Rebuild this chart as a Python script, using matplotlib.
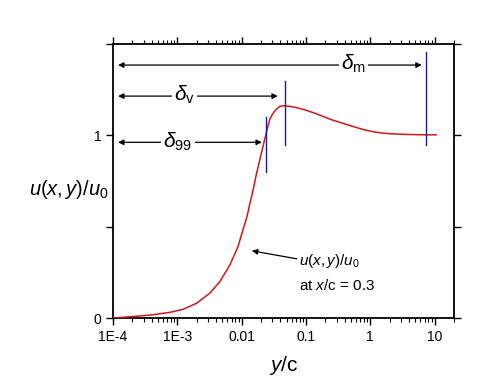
import matplotlib
matplotlib.use("Agg")
import matplotlib.pyplot as plt
from matplotlib.ticker import FixedLocator, LogLocator, NullFormatter, FixedFormatter

plt.rcParams['font.family'] = ['Liberation Sans', 'DejaVu Sans']
plt.rcParams['mathtext.fontset'] = 'custom'
plt.rcParams['mathtext.rm'] = 'Liberation Sans'
plt.rcParams['mathtext.it'] = 'Liberation Sans:italic'
plt.rcParams['mathtext.sf'] = 'Liberation Sans'

# velocity profile u(x,y)/u0 vs y/c
y_c = [1e-4, 1.84e-4, 3.76e-4, 7.7e-4, 1.24e-3, 2.0e-3, 3.2e-3, 4.6e-3, 6.55e-3,
       8.8e-3, 0.0105, 0.0122, 0.0135, 0.0151, 0.017, 0.0192, 0.0215, 0.0238,
       0.0256, 0.0274, 0.030, 0.0328, 0.036, 0.039, 0.0425, 0.0467, 0.056, 0.071,
       0.095, 0.128, 0.175, 0.234, 0.335, 0.45, 0.61, 0.8, 1.1, 1.5, 2.0, 2.7,
       3.6, 5.0, 7.3, 10.6]
u_u0 = [0.0, 0.007, 0.016, 0.031, 0.048, 0.081, 0.136, 0.20, 0.29,
        0.392, 0.484, 0.56, 0.63, 0.703, 0.79, 0.868, 0.94, 1.005,
        1.05, 1.088, 1.115, 1.134, 1.148, 1.158, 1.161, 1.162, 1.159, 1.152,
        1.14, 1.125, 1.107, 1.089, 1.071, 1.057, 1.043, 1.031, 1.02, 1.013, 1.009, 1.007,
        1.005, 1.004, 1.003, 1.003]

# thickness markers: (x position, y bottom, y top)
marker_x = [0.024, 0.047, 7.3]
marker_ylo = [0.80, 0.945, 0.945]
marker_yhi = [1.10, 1.30, 1.456]

# thickness arrows
arrow_labels = [r'$\delta_{\mathrm{99}}$', r'$\delta_{\mathrm{v}}$', r'$\delta_{\mathrm{m}}$']
arrow_y = [0.962, 1.215, 1.385]
arrow_x0 = [1.2e-4, 1.2e-4, 1.2e-4]
arrow_x1 = [0.0206, 0.0365, 6.3]
label_x = [1.02e-3, 1.3e-3, 0.55]

xticks = [1e-4, 1e-3, 1e-2, 1e-1, 1, 10]
xticklabels = ['1E-4', '1E-3', '0.01', '0.1', '1', '10']
yticks = [0, 0.5, 1, 1.5]
yticklabels = ['0', '', '1', '']

fig = plt.figure(figsize=(5.0, 3.83), dpi=100)
ax = fig.add_axes([0.226, 0.1697, 0.682, 0.7153])

ax.plot(y_c, u_u0, color='#d01818', lw=1.1, zorder=3)
for x, lo, hi in zip(marker_x, marker_ylo, marker_yhi):
    ax.plot([x, x], [lo, hi], color='#1c1c8c', lw=1.0, zorder=4)

for lab, y, x0, x1, lx in zip(arrow_labels, arrow_y, arrow_x0, arrow_x1, label_x):
    ax.annotate('', xy=(x0, y), xytext=(x1, y),
                arrowprops=dict(arrowstyle='<|-|>', color='black', lw=0.9,
                                mutation_scale=8, shrinkA=0, shrinkB=0))
    ax.text(lx, y + 0.005, lab, fontsize=15, ha='center', va='center',
            bbox=dict(facecolor='white', edgecolor='none', pad=1.5), zorder=5)

ax.annotate('', xy=(0.0144, 0.368), xytext=(0.072, 0.324),
            arrowprops=dict(arrowstyle='-|>', color='black', lw=0.9,
                            mutation_scale=8, shrinkA=0, shrinkB=0))
ax.text(0.078, 0.31, r'$u(x,y)/u_{\mathrm{0}}$', fontsize=11, ha='left', va='center')
ax.text(0.078, 0.18, r'at $x$/c = 0.3', fontsize=11, ha='left', va='center')

ax.set_xscale('log')
ax.set_xlim(1e-4, 20)
ax.set_ylim(0, 1.5)
ax.xaxis.set_major_locator(FixedLocator(xticks))
ax.xaxis.set_major_formatter(FixedFormatter(xticklabels))
ax.xaxis.set_minor_locator(LogLocator(base=10, subs=range(2, 10)))
ax.xaxis.set_minor_formatter(NullFormatter())
ax.yaxis.set_major_locator(FixedLocator(yticks))
ax.yaxis.set_major_formatter(FixedFormatter(yticklabels))

ax.tick_params(which='both', direction='out', top=True, right=True,
               labeltop=False, labelright=False, width=1.0, labelsize=10)
ax.tick_params(which='major', length=5)
ax.tick_params(which='minor', length=3, width=0.8)
for s in ax.spines.values():
    s.set_linewidth(1.3)

ax.set_xlabel(r'$y$/c', fontsize=15, labelpad=7)
ax.set_ylabel(r'$u(x,y)/u_{\mathrm{0}}$', fontsize=14.5, rotation=0)
ax.yaxis.set_label_coords(-0.13, 0.47)
ax.yaxis.label.set_horizontalalignment('center')
ax.yaxis.label.set_verticalalignment('center')

fig.savefig('out.png', dpi=100)
